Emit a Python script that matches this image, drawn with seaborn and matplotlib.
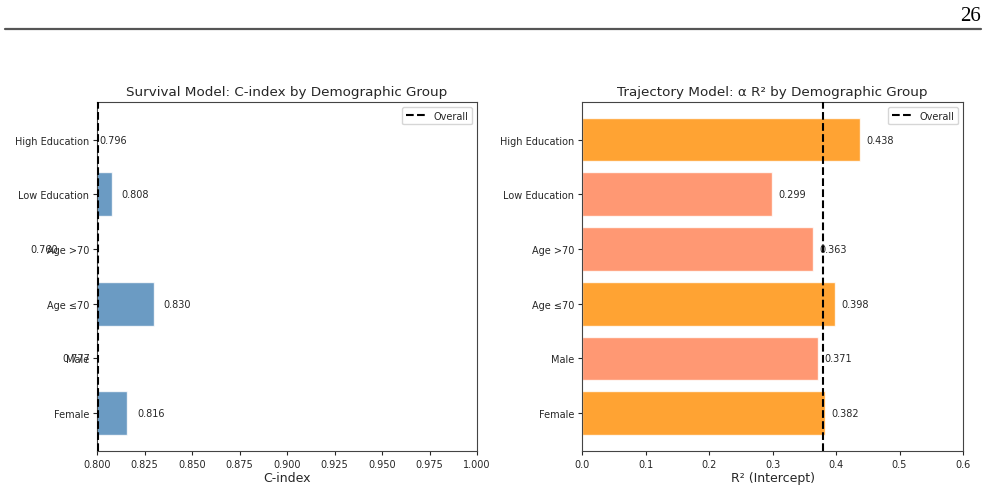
import matplotlib
matplotlib.use("Agg")
import matplotlib.pyplot as plt
import seaborn as sns
import pandas as pd
from matplotlib.lines import Line2D

# data (bottom -> top as drawn in the reference)
groups = ['Female', 'Male', 'Age ≤70', 'Age >70', 'Low Education', 'High Education']
c_index = [0.816, 0.777, 0.830, 0.760, 0.808, 0.796]
r2_intercept = [0.382, 0.371, 0.398, 0.363, 0.299, 0.438]
overall_c = 0.8005
overall_r2 = 0.380
page_number = '26'

order = groups[::-1]  # seaborn puts first category on top
df = pd.DataFrame({'group': groups, 'c_index': c_index, 'r2': r2_intercept})
df['above'] = df['r2'] >= overall_r2

sns.set_style('ticks')
plt.rcParams['font.family'] = ['DejaVu Sans']

fig = plt.figure(figsize=(9.87, 4.89), dpi=100)

# page header like the source document
fig.text(0.9935, 0.957, page_number, family='Liberation Serif', fontsize=15,
         ha='right', va='baseline', color='black')
fig.add_artist(Line2D([0.005, 0.994], [0.9387, 0.9387], color='#555555', lw=1.6,
                      transform=fig.transFigure))

ax1 = fig.add_axes([0.0983, 0.0757, 0.385, 0.714])
ax2 = fig.add_axes([0.5897, 0.0757, 0.386, 0.714])

# survival model
sns.barplot(data=df, x='c_index', y='group', order=order, color='steelblue',
            saturation=1, alpha=0.8, width=0.8, orient='h', ax=ax1)
ax1.axvline(overall_c, color='black', linestyle='--', linewidth=1.5,
            label='Overall', zorder=3)
for i, g in enumerate(order):
    v = df.loc[df['group'] == g, 'c_index'].iloc[0]
    ax1.text(v + 0.005, i, f'{v:.3f}', va='center', fontsize=7)
ax1.set_xlim(0.8, 1.0)
ax1.set_ylim(5.69, -0.69)
ax1.set_xlabel('C-index', fontsize=9, labelpad=2)
ax1.set_ylabel('')
ax1.set_title('Survival Model: C-index by Demographic Group', fontsize=9.7, pad=5)
ax1.legend(loc='upper right', fontsize=7)

# trajectory model
pal = {g: ('darkorange' if a else 'coral') for g, a in zip(df['group'], df['above'])}
sns.barplot(data=df, x='r2', y='group', order=order, hue='group', palette=pal,
            legend=False, saturation=1, alpha=0.8, width=0.8, orient='h', ax=ax2)
ax2.axvline(overall_r2, color='black', linestyle='--', linewidth=1.5,
            label='Overall', zorder=3)
for i, g in enumerate(order):
    v = df.loc[df['group'] == g, 'r2'].iloc[0]
    ax2.text(v + 0.01, i, f'{v:.3f}', va='center', fontsize=7)
ax2.set_xlim(0, 0.6)
ax2.set_ylim(5.69, -0.69)
ax2.set_xlabel('R² (Intercept)', fontsize=9, labelpad=2)
ax2.set_ylabel('')
ax2.set_title('Trajectory Model: α R² by Demographic Group', fontsize=9.7, pad=5)
ax2.legend(loc='upper right', fontsize=7)

for ax in (ax1, ax2):
    ax.tick_params(labelsize=7, length=3, pad=2.5)
    for s in ax.spines.values():
        s.set_visible(True)
        s.set_color('#444444')
        s.set_linewidth(0.8)

fig.savefig('out.png', dpi=100)
